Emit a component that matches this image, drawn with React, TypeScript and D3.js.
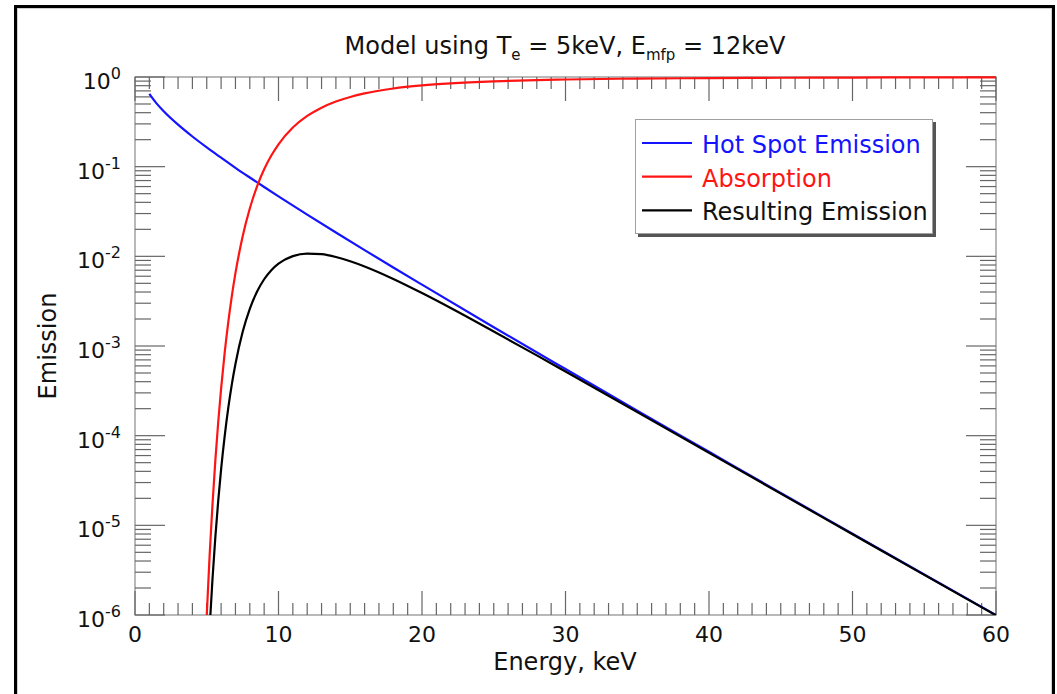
import React from "react";
import * as d3 from "d3";

// Hot spot emission spectrum (energy in keV, relative emission)
const hotSpotEnergy = [1, 1.5, 2, 3, 4, 5, 6, 7, 8, 9, 10, 12, 14, 16, 18, 20, 25, 30, 35, 40, 45, 50, 55, 60];
const hotSpotValues = [
  0.649, 0.508, 0.415, 0.294, 0.217, 0.164, 0.126, 0.0971, 0.0757, 0.0593, 0.0467, 0.0292, 0.01845,
  0.01174, 0.00751, 0.00483, 0.00162, 5.53e-4, 1.9e-4, 6.61e-5, 2.3e-5, 8.07e-6, 2.83e-6, 1.0e-6,
];

// Shared energy grid for the absorption and resulting curves
const modelEnergy = [
  4.95, 5.0, 5.2, 5.4, 5.6, 5.8, 6.0, 6.25, 6.5, 6.75, 7.0, 7.5, 8, 8.5, 9, 9.5, 10, 11, 12, 13, 14, 15,
  16, 18, 20, 22, 25, 28, 30, 35, 40, 45, 50, 55, 60,
];
const absorptionValues = [
  6.5e-7, 9.9e-7, 4.6e-6, 1.71e-5, 5.33e-5, 1.42e-4, 3.35e-4, 8.43e-4, 1.85e-3, 3.63e-3, 6.49e-3, 0.01664,
  0.0342, 0.06, 0.0935, 0.133, 0.1777, 0.273, 0.368, 0.455, 0.533, 0.599, 0.656, 0.744, 0.806, 0.85, 0.895,
  0.924, 0.938, 0.96, 0.973, 0.981, 0.986, 0.99, 0.992,
];
const resultingValues = [
  1.08e-7, 1.62e-7, 7.14e-7, 2.52e-6, 7.43e-6, 1.88e-5, 4.21e-5, 9.91e-5, 2.04e-4, 3.76e-4, 6.3e-4, 1.43e-3,
  2.59e-3, 4.02e-3, 5.55e-3, 7.01e-3, 8.29e-3, 0.01006, 0.01074, 0.01056, 9.83e-3, 8.81e-3, 7.7e-3, 5.59e-3,
  3.89e-3, 2.65e-3, 1.45e-3, 7.86e-4, 5.19e-4, 1.83e-4, 6.43e-5, 2.26e-5, 7.96e-6, 2.8e-6, 9.92e-7,
];

const xMajorTicks = [0, 10, 20, 30, 40, 50, 60];
const yDecadeExponents = [0, -1, -2, -3, -4, -5, -6];

const legendItems = [
  { label: "Hot Spot Emission", color: "#1414ff" },
  { label: "Absorption", color: "#ff1414" },
  { label: "Resulting Emission", color: "#000000" },
];

const W = 1057;
const H = 694;
const plot = { left: 135, right: 996, top: 77, bottom: 615 };
const FONT = "'DejaVu Sans', Verdana, sans-serif";
const AXIS_COLOR = "#666";

export default function App() {
  const x = d3.scaleLinear().domain([0, 60]).range([plot.left, plot.right]);
  const y = d3.scaleLog().domain([1e-6, 1]).range([plot.bottom, plot.top]);

  const line = d3
    .line<[number, number]>()
    .x((d) => x(d[0]))
    .y((d) => y(d[1]))
    .curve(d3.curveMonotoneX);

  const hotSpot = hotSpotEnergy.map((e, i) => [e, hotSpotValues[i]] as [number, number]);
  const absorption = modelEnergy.map((e, i) => [e, absorptionValues[i]] as [number, number]);
  const resulting = modelEnergy.map((e, i) => [e, resultingValues[i]] as [number, number]);

  const xMinor = d3.range(0, 61, 1).filter((v) => v % 10 !== 0);
  const yMinor: number[] = [];
  yDecadeExponents.slice(1).forEach((p) => {
    for (let k = 2; k <= 9; k++) yMinor.push(k * Math.pow(10, p));
  });

  const majorX = 24;
  const minorX = 12;
  const majorY = 30;
  const minorY = 16;

  return (
    <svg
      width={W}
      height={H}
      style={{ position: "absolute", left: 0, top: 0, background: "#fff" }}
      fontFamily={FONT}
    >
      <defs>
        <clipPath id="plot-clip">
          <rect x={plot.left} y={plot.top - 2} width={plot.right - plot.left} height={plot.bottom - plot.top + 2} />
        </clipPath>
      </defs>

      {/* outer frame */}
      <rect x={15.5} y={6.5} width={1038} height={700} fill="none" stroke="#000" strokeWidth={3} />
      <rect x={17.5} y={8.5} width={1034} height={700} fill="none" stroke="#d0d0d0" strokeWidth={1} />

      {/* title */}
      <text x={565} y={54} textAnchor="middle" fontSize={24} fill="#111">
        Model using T
        <tspan fontSize={15} dy={6}>e</tspan>
        <tspan dy={-6}> = 5keV, E</tspan>
        <tspan fontSize={15} dy={6}>mfp</tspan>
        <tspan dy={-6}> = 12keV</tspan>
      </text>

      {/* plot box */}
      <rect
        x={plot.left}
        y={plot.top}
        width={plot.right - plot.left}
        height={plot.bottom - plot.top}
        fill="none"
        stroke="#8a8a8a"
        strokeWidth={1.2}
      />

      {/* x ticks, bottom and top */}
      <g stroke={AXIS_COLOR} strokeWidth={1.2}>
        {xMajorTicks.map((v) => (
          <g key={"xM" + v}>
            <line x1={x(v)} x2={x(v)} y1={plot.bottom} y2={plot.bottom - majorX} />
            <line x1={x(v)} x2={x(v)} y1={plot.top} y2={plot.top + majorX} />
          </g>
        ))}
        {xMinor.map((v) => (
          <g key={"xm" + v}>
            <line x1={x(v)} x2={x(v)} y1={plot.bottom} y2={plot.bottom - minorX} />
            <line x1={x(v)} x2={x(v)} y1={plot.top} y2={plot.top + minorX} />
          </g>
        ))}
        {yDecadeExponents.map((p) => (
          <g key={"yM" + p}>
            <line x1={plot.left} x2={plot.left + majorY} y1={y(Math.pow(10, p))} y2={y(Math.pow(10, p))} />
            <line x1={plot.right} x2={plot.right - majorY} y1={y(Math.pow(10, p))} y2={y(Math.pow(10, p))} />
          </g>
        ))}
        {yMinor.map((v, i) => (
          <g key={"ym" + i}>
            <line x1={plot.left} x2={plot.left + minorY} y1={y(v)} y2={y(v)} />
            <line x1={plot.right} x2={plot.right - minorY} y1={y(v)} y2={y(v)} />
          </g>
        ))}
      </g>

      {/* x tick labels */}
      {xMajorTicks.map((v) => (
        <text key={"xl" + v} x={x(v)} y={642} textAnchor="middle" fontSize={22} fill="#111">
          {v}
        </text>
      ))}

      {/* y tick labels */}
      {yDecadeExponents.map((p) => (
        <text key={"yl" + p} x={121} y={y(Math.pow(10, p)) + 12} textAnchor="end" fontSize={22} fill="#111">
          10
          <tspan fontSize={16} dy={-10}>
            {p === 0 ? "0" : "-" + Math.abs(p)}
          </tspan>
        </text>
      ))}

      {/* axis titles */}
      <text x={565} y={670} textAnchor="middle" fontSize={24} fill="#111">
        Energy, keV
      </text>
      <text transform="translate(56,346) rotate(-90)" textAnchor="middle" fontSize={24} fill="#111">
        Emission
      </text>

      {/* curves */}
      <g clipPath="url(#plot-clip)" fill="none" strokeWidth={2.2} strokeLinejoin="round">
        <path d={line(hotSpot) || ""} stroke={legendItems[0].color} />
        <path d={line(absorption) || ""} stroke={legendItems[1].color} />
        <path d={line(resulting) || ""} stroke={legendItems[2].color} />
      </g>

      {/* legend */}
      <rect x={638} y={122} width={298} height={115} fill="#555" />
      <rect x={635.5} y={119.5} width={297} height={114} fill="#fff" stroke="#a0a0a0" strokeWidth={1} />
      {legendItems.map((item, i) => (
        <g key={item.label}>
          <line x1={642} x2={692} y1={143 + i * 33.7} y2={143 + i * 33.7} stroke={item.color} strokeWidth={2.2} />
          <text x={702} y={153 + i * 33.5} fontSize={24} fill={item.color === "#000000" ? "#111" : item.color}>
            {item.label}
          </text>
        </g>
      ))}
    </svg>
  );
}
